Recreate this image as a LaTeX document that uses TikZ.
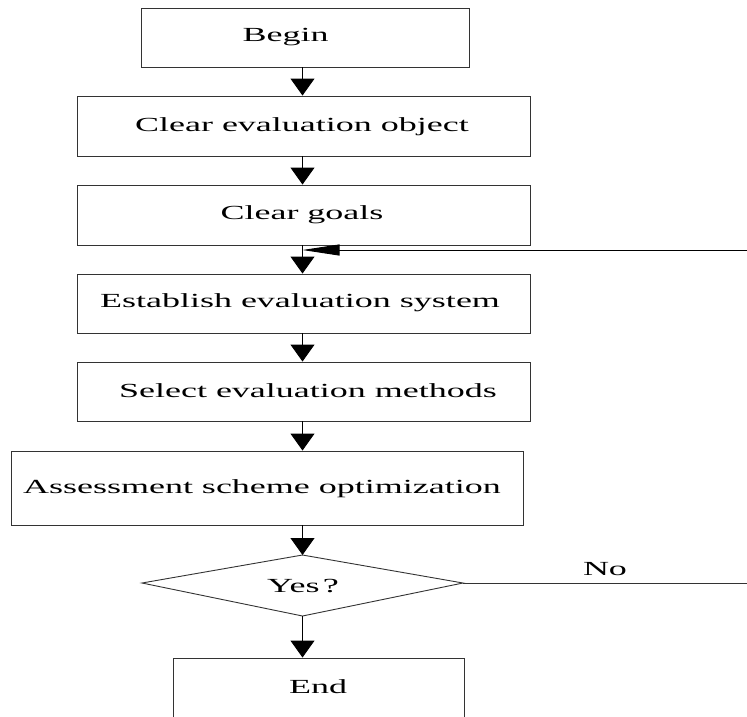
\documentclass[tikz,border=0pt]{standalone}
\usepackage{fontspec}
\setmainfont{Liberation Serif}[FakeStretch=1.8]
\usetikzlibrary{arrows.meta,shapes.geometric}
\tikzset{
  box/.style={draw=black!80, line width=0.9pt, rectangle, inner sep=0pt},
  lbl/.style={inner sep=0pt, font=\fontsize{20}{24}\selectfont},
  flow/.style={draw=black, line width=0.9pt, -{Triangle[width=24pt,length=17pt]}},
  back/.style={draw=black, line width=0.9pt, -{Triangle[width=11pt,length=37pt]}},
  plain/.style={draw=black!80, line width=0.9pt},
}
\begin{document}
\begin{tikzpicture}[x=1pt,y=-1pt]
\useasboundingbox (0,0) rectangle (747,716);
\clip (0,0) rectangle (747,716);
% boxes
\node[box, minimum width=328, minimum height=59] (begin) at (305,37.5) {};
\node[box, minimum width=453, minimum height=60] (obj) at (303.5,126) {};
\node[box, minimum width=453, minimum height=60] (goal) at (303.5,215) {};
\node[box, minimum width=453, minimum height=59] (sys) at (303.5,303.5) {};
\node[box, minimum width=453, minimum height=59] (meth) at (303.5,391.5) {};
\node[box, minimum width=512, minimum height=74] (opt) at (267,488) {};
\node[box, minimum width=291, minimum height=84] (end) at (318.5,700) {};
\coordinate (dT) at (302.5,555);
\coordinate (dB) at (302.5,616);
\coordinate (dL) at (142,583);
\coordinate (dR) at (463,583);
\draw[plain] (dT) -- (dR) -- (dB) -- (dL) -- cycle;
% labels
\node[lbl] (tBegin) at (285.5,37) {Begin};
\node[lbl] (tObj) at (302,127) {Clear evaluation object};
\node[lbl] (tGoal) at (302,215) {Clear goals};
\node[lbl] (tSys) at (300,303) {Establish evaluation system};
\node[lbl] (tMeth) at (308,391) {Select evaluation methods};
\node[lbl] (tOpt) at (262,489) {Assessment scheme optimization};
\node[lbl] (tYes) at (303,586) {Yes\,?};
\node[lbl] (tNo) at (605,569) {No};
\node[lbl] (tEnd) at (318,687) {End};
% connectors
\coordinate (ax) at (302.5,0);
\coordinate (fbR) at (747,250);
\coordinate (fbL) at (302.5,250);
\coordinate (noR) at (747,583);
\draw[flow] (begin.south -| ax) -- (obj.north -| ax);
\draw[flow] (obj.south -| ax) -- (goal.north -| ax);
\draw[flow] (goal.south -| ax) -- (sys.north -| ax);
\draw[back] (fbR) -- (fbL);
\draw[flow] (sys.south -| ax) -- (meth.north -| ax);
\draw[flow] (meth.south -| ax) -- (opt.north -| ax);
\draw[flow] (opt.south -| ax) -- (dT);
\draw[flow] (dB) -- (end.north -| ax);
\draw[plain] (dR) -- (noR);
\end{tikzpicture}
\end{document}
